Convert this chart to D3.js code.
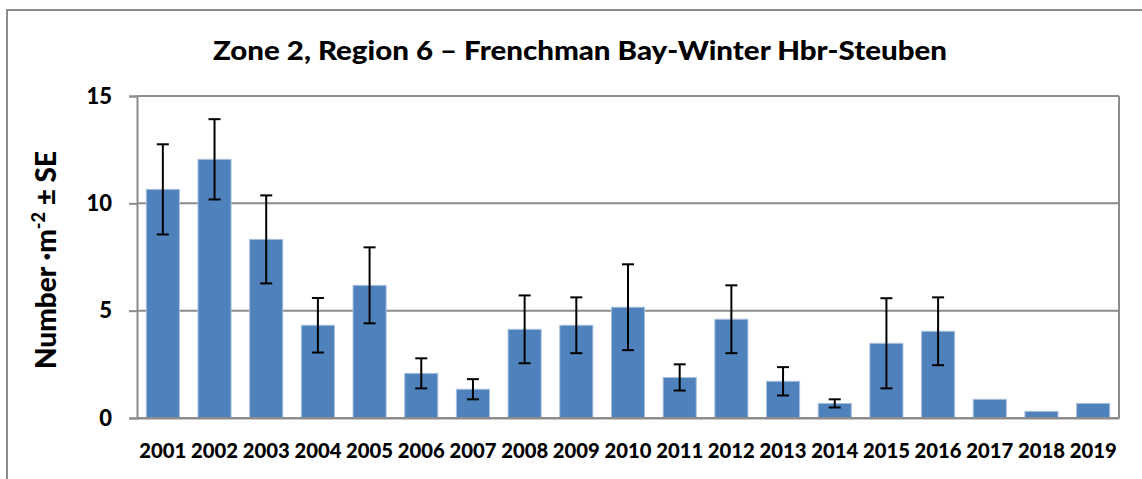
<!DOCTYPE html>
<html><head><meta charset="utf-8">
<script src="https://cdn.jsdelivr.net/npm/d3@7"></script>
<style>body{margin:0;background:#fff}svg{display:block}</style>
</head><body>
<script>
const years = ["2001","2002","2003","2004","2005","2006","2007","2008","2009","2010","2011","2012","2013","2014","2015","2016","2017","2018","2019"];
const means = [10.65,12.05,8.32,4.32,6.18,2.08,1.34,4.13,4.32,5.16,1.89,4.60,1.71,0.68,3.48,4.04,0.87,0.31,0.68];
const se = [2.1,1.87,2.05,1.27,1.77,0.70,0.47,1.58,1.30,2.0,0.61,1.58,0.66,0.19,2.1,1.58,null,null,null];
const yTicks = [0,5,10,15];
const title = "Zone 2, Region 6 \u2013 Frenchman Bay-Winter Hbr-Steuben";

const W = 1142, H = 479;
const m = {left:137, right:1119, top:96, bottom:418};
const font = "Lato, 'Open Sans', sans-serif";
const svg = d3.select("body").append("svg").attr("width",W).attr("height",H);

// outer chart border
svg.append("rect").attr("x",7).attr("y",10).attr("width",W+20).attr("height",H+20)
  .attr("fill","none").attr("stroke","#8c8c8c").attr("stroke-width",2);

const x = d3.scaleBand().domain(years).range([m.left,m.right]).paddingInner(0.36).paddingOuter(0.18);
const y = d3.scaleLinear().domain([0,15]).range([m.bottom,m.top]);

// gridlines
svg.append("g").selectAll("line").data(yTicks).join("line")
  .attr("x1",m.left).attr("x2",m.right).attr("y1",d=>y(d)).attr("y2",d=>y(d))
  .attr("stroke","#8c8c8c").attr("stroke-width",2);
// right border
svg.append("line").attr("x1",m.right).attr("x2",m.right).attr("y1",m.top).attr("y2",m.bottom)
  .attr("stroke","#8c8c8c").attr("stroke-width",2);

// y axis
const yAxis = svg.append("g").attr("transform",`translate(${m.left},0)`)
  .call(d3.axisLeft(y).tickValues(yTicks).tickSize(8).tickPadding(17).tickFormat(d3.format("d")));
yAxis.select(".domain").attr("stroke","#8c8c8c").attr("stroke-width",2);
yAxis.selectAll(".tick line").attr("stroke","#8c8c8c").attr("stroke-width",2);
yAxis.selectAll("text").attr("font-family",font).attr("font-weight","900").attr("font-size",22).attr("fill","#000");

// x axis labels
const xAxis = svg.append("g").attr("transform",`translate(0,${m.bottom})`)
  .call(d3.axisBottom(x).tickSize(0).tickPadding(26));
xAxis.select(".domain").attr("stroke","#8c8c8c").attr("stroke-width",2);
xAxis.selectAll("text").attr("font-family",font).attr("font-weight","900").attr("font-size",20).attr("fill","#000")
  .attr("textLength",47).attr("lengthAdjust","spacingAndGlyphs");

// bars
svg.append("g").selectAll("rect").data(years).join("rect")
  .attr("x",d=>x(d)).attr("width",x.bandwidth())
  .attr("y",(d,i)=>y(means[i])).attr("height",(d,i)=>y(0)-y(means[i]))
  .attr("fill","#4f81bd").attr("stroke","#a9c0de").attr("stroke-width",1);
// redraw baseline over bars
svg.append("line").attr("x1",m.left).attr("x2",m.right).attr("y1",y(0)).attr("y2",y(0))
  .attr("stroke","#8c8c8c").attr("stroke-width",2);

// error bars
const eb = svg.append("g").attr("stroke","#000").attr("stroke-width",2);
years.forEach((d,i)=>{
  if (se[i]==null) return;
  const cx = x(d)+x.bandwidth()/2, hi = y(means[i]+se[i]), lo = y(means[i]-se[i]);
  eb.append("line").attr("x1",cx).attr("x2",cx).attr("y1",hi).attr("y2",lo);
  eb.append("line").attr("x1",cx-6).attr("x2",cx+6).attr("y1",hi).attr("y2",hi);
  eb.append("line").attr("x1",cx-6).attr("x2",cx+6).attr("y1",lo).attr("y2",lo);
});

// title
svg.append("text").attr("x",580).attr("y",60).attr("text-anchor","middle")
  .attr("font-family",font).attr("font-weight","900").attr("font-size",26)
  .attr("textLength",734).attr("lengthAdjust","spacingAndGlyphs").text(title);

// y label
const yl = svg.append("text").attr("transform","translate(56,260) rotate(-90)").attr("text-anchor","middle")
  .attr("font-family",font).attr("font-weight","900").attr("font-size",28);
yl.append("tspan").text("Number \u00b7m");
yl.append("tspan").attr("baseline-shift","super").attr("font-size",18).text("-2");
yl.append("tspan").text(" \u00b1 SE");
</script>
</body></html>
